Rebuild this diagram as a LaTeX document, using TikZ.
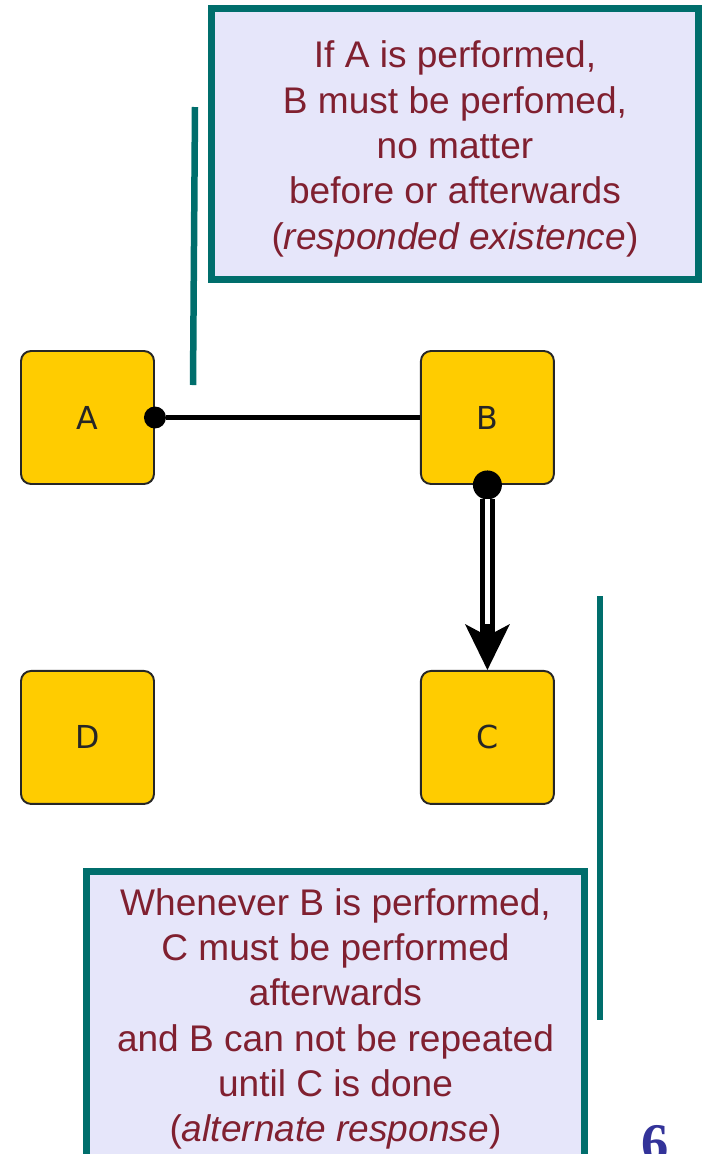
\documentclass[tikz,border=0pt]{standalone}
\usepackage{fontspec}
\setmainfont{Liberation Sans}
\newfontfamily\taskfont{DejaVu Sans}
\newfontfamily\slidefont{Liberation Serif}
\usetikzlibrary{arrows.meta,positioning}
\definecolor{taskfill}{RGB}{255,204,0}
\definecolor{notefill}{RGB}{230,230,250}
\definecolor{noteline}{RGB}{0,110,108}
\definecolor{notetext}{RGB}{128,32,48}
\definecolor{slideblue}{RGB}{51,51,153}

\begin{document}
\begin{tikzpicture}[x=0.02cm,y=-0.02cm,node distance=6.4cm and 8cm,on grid,
  task/.style={draw=black!85,line width=1.1pt,fill=taskfill,rounded corners=0.2cm,
    minimum size=2.66cm,inner sep=0pt,text=black!85,font=\taskfont\fontsize{18}{20}\selectfont},
  note/.style={draw=noteline,line width=0.14cm,fill=notefill,text=notetext,align=center,
    inner sep=0pt,font=\fontsize{21.1}{25.8}\selectfont},
  leader/.style={draw=noteline,line width=0.13cm},
  existence/.style={line width=0.09cm,{Circle[length=0.44cm,line width=0pt]}-,shorten <=-0.22cm},
  altresp/.style={line width=0.3cm,
    {Circle[length=0.58cm,line width=0pt]}-{Stealth[length=0.92cm,width=0.9cm,inset=0.24cm,line width=0pt]},
    shorten <=-0.29cm},
  altinner/.style={white,line width=0.1cm,shorten <=0.29cm,shorten >=0.92cm}]
  \useasboundingbox (0,0) rectangle (704,1154);
  \clip (0,0) rectangle (704,1154);

  \node[task] (A) at (87.5,417.5) {A};
  \node[task] (B) [right = of A] {B};
  \node[task] (D) [below = of A] {D};
  \node[task] (C) [below = of B] {C};
  \path
  (A) edge [existence] (B)
  (B) edge [altresp] (C)
  (B) edge [altinner] (C)
  ;

  \node[note,minimum width=9.74cm,minimum height=5.42cm] (respnote) at (455,144)
    {\rule{0pt}{21pt}If A is performed,\\B must be perfomed,\\no matter\\before or afterwards\\(\textit{responded existence})};
  \node[note,minimum width=9.98cm,minimum height=5.9cm] (altnote) at (335.5,1019)
    {Whenever B is performed,\\C must be performed\\afterwards\\and B can not be repeated\\until C is done\\(\textit{alternate response})};
  \coordinate (resptop) at (195,107);
  \coordinate (respfoot) at (193,385);
  \coordinate (alttop) at (600,596);
  \coordinate (altfoot) at (600,1020);
  \draw[leader] (resptop) -- (respfoot);
  \draw[leader] (alttop) -- (altfoot);

  \node[anchor=base,text=slideblue,font=\slidefont\bfseries\fontsize{31}{31}\selectfont] (pageno) at (655.5,1161) {6};
\end{tikzpicture}
\end{document}
